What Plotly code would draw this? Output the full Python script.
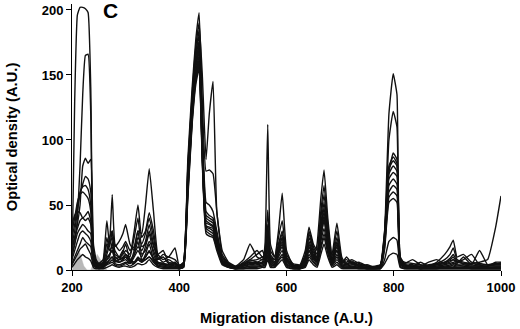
import plotly.graph_objects as go

# Migration-distance grid (A.U.), grouped by region
seg_a = [200, 205, 210, 215, 220, 225, 230, 235, 240, 245, 250, 258]
seg_b = [265, 270, 275, 280, 288, 295, 300, 308, 316, 323, 330, 337, 344, 352, 360, 370, 380, 392, 400]
seg_c = [408, 416, 424, 431, 437, 443, 450, 456, 463, 470, 480, 492, 505]
seg_d = [520, 532, 545, 555, 560, 565, 570, 578, 585, 592, 600, 612, 625]
seg_e = [635, 642, 650, 657, 664, 670, 677, 685, 694, 703, 712, 722, 735, 750, 765]
seg_f = [775, 783, 791, 799, 806, 812, 820, 835, 850, 865]
seg_g = [880, 895, 905, 911, 918, 930, 945, 960, 975, 990, 1000]
migration = seg_a + seg_b + seg_c + seg_d + seg_e + seg_f + seg_g

# Optical density profiles (A.U.), one list per lane
lane_1 = ([3, 130, 196, 202, 202, 201, 198, 140, 12, 6, 4, 3]
          + [8, 12, 15, 10, 8, 9, 12, 7, 6, 9, 8, 10, 14, 9, 6, 5, 4, 6, 3]
          + [6, 80, 135, 172, 190, 150, 85, 120, 145, 45, 15, 6, 3]
          + [5, 8, 6, 5, 10, 30, 10, 8, 15, 25, 8, 4, 3]
          + [10, 18, 10, 8, 25, 40, 20, 8, 15, 6, 5, 6, 4, 3, 2]
          + [3, 30, 120, 151, 135, 10, 5, 4, 3, 4]
          + [5, 6, 7, 8, 6, 5, 5, 6, 8, 33, 57])
lane_2 = ([10, 20, 40, 80, 135, 165, 166, 120, 10, 5, 4, 3]
          + [5, 8, 10, 7, 6, 8, 10, 6, 5, 8, 6, 8, 10, 7, 5, 4, 4, 5, 2]
          + [5, 85, 140, 178, 198, 130, 76, 77, 74, 45, 12, 5, 2]
          + [4, 6, 5, 6, 20, 112, 20, 10, 30, 59, 15, 4, 3]
          + [8, 15, 8, 20, 55, 77, 40, 12, 36, 10, 4, 5, 3, 2, 2]
          + [3, 25, 100, 122, 110, 8, 4, 3, 2, 3]
          + [3, 4, 5, 6, 4, 4, 3, 3, 3, 4, 4])
lane_3 = ([15, 25, 35, 50, 80, 86, 82, 85, 20, 8, 5, 4]
          + [12, 20, 58, 20, 15, 18, 22, 15, 18, 30, 28, 50, 78, 45, 12, 8, 10, 8, 4]
          + [5, 75, 130, 165, 185, 110, 52, 50, 45, 30, 10, 5, 3]
          + [8, 20, 10, 8, 15, 46, 15, 10, 25, 38, 12, 5, 4]
          + [15, 33, 20, 15, 45, 65, 35, 10, 30, 8, 6, 8, 5, 3, 3]
          + [4, 20, 75, 90, 85, 8, 6, 5, 4, 3]
          + [6, 12, 18, 23, 10, 12, 6, 5, 4, 5, 5])
lane_4 = ([20, 30, 45, 58, 66, 72, 70, 60, 15, 6, 5, 8]
          + [38, 20, 25, 15, 10, 12, 15, 12, 30, 50, 25, 30, 44, 30, 10, 6, 8, 5, 3]
          + [6, 78, 132, 168, 180, 105, 45, 42, 40, 28, 10, 4, 2]
          + [6, 10, 15, 10, 12, 35, 12, 8, 20, 30, 10, 4, 3]
          + [12, 30, 18, 12, 40, 58, 30, 8, 25, 7, 5, 6, 4, 3, 2]
          + [4, 30, 80, 87, 82, 10, 5, 8, 4, 3]
          + [4, 5, 8, 10, 6, 8, 12, 4, 3, 3, 3])
lane_5 = ([25, 35, 50, 60, 64, 65, 62, 50, 12, 5, 4, 6]
          + [15, 25, 30, 18, 22, 28, 35, 20, 15, 25, 20, 28, 40, 25, 8, 10, 5, 4, 2]
          + [5, 72, 128, 164, 176, 100, 42, 40, 38, 25, 8, 4, 2]
          + [5, 8, 12, 15, 10, 30, 10, 6, 18, 28, 9, 3, 3]
          + [10, 28, 16, 10, 35, 52, 28, 7, 22, 6, 8, 5, 3, 4, 2]
          + [3, 28, 78, 84, 80, 8, 4, 3, 6, 3]
          + [5, 8, 12, 17, 8, 6, 5, 4, 4, 4, 4])
lane_6 = ([30, 40, 52, 58, 60, 58, 55, 45, 10, 4, 3, 5]
          + [20, 18, 30, 12, 10, 15, 12, 10, 25, 40, 18, 20, 30, 18, 12, 15, 6, 5, 2]
          + [4, 70, 126, 160, 173, 98, 40, 38, 36, 24, 8, 3, 2]
          + [4, 7, 8, 10, 9, 25, 9, 5, 16, 25, 8, 3, 2]
          + [9, 25, 14, 9, 32, 48, 26, 6, 20, 5, 4, 7, 3, 2, 2]
          + [3, 26, 74, 80, 76, 7, 4, 3, 3, 6]
          + [8, 5, 6, 8, 5, 10, 4, 15, 4, 3, 3])
lane_7 = ([35, 42, 45, 44, 40, 42, 45, 38, 8, 4, 3, 6]
          + [25, 15, 18, 10, 8, 10, 12, 8, 12, 18, 15, 22, 35, 20, 8, 12, 10, 17, 3]
          + [4, 68, 124, 158, 170, 95, 38, 36, 34, 22, 7, 3, 2]
          + [4, 6, 6, 8, 8, 22, 8, 5, 14, 22, 7, 3, 2]
          + [8, 22, 12, 8, 30, 45, 24, 6, 18, 5, 10, 5, 6, 3, 2]
          + [3, 24, 70, 75, 72, 6, 4, 3, 3, 3]
          + [4, 6, 9, 12, 7, 5, 4, 3, 3, 6, 6])
lane_8 = ([18, 25, 32, 38, 40, 38, 40, 35, 8, 3, 3, 4]
          + [10, 12, 15, 8, 10, 8, 10, 6, 15, 30, 12, 15, 22, 15, 6, 5, 4, 3, 2]
          + [4, 66, 122, 156, 168, 92, 36, 35, 33, 21, 7, 3, 2]
          + [3, 5, 5, 6, 7, 20, 7, 4, 13, 20, 6, 3, 2]
          + [7, 20, 11, 7, 28, 42, 22, 5, 15, 4, 3, 4, 3, 2, 2]
          + [2, 22, 65, 70, 66, 6, 3, 2, 2, 2]
          + [3, 3, 4, 5, 4, 3, 3, 3, 2, 2, 2])
lane_9 = ([12, 20, 28, 32, 35, 33, 30, 28, 6, 3, 2, 3]
          + [8, 10, 22, 8, 6, 7, 8, 5, 10, 15, 10, 18, 28, 12, 5, 4, 3, 3, 2]
          + [3, 64, 120, 153, 165, 90, 34, 33, 32, 20, 6, 3, 2]
          + [3, 4, 4, 5, 6, 18, 6, 4, 12, 18, 5, 2, 2]
          + [6, 18, 10, 6, 25, 38, 20, 5, 12, 4, 3, 3, 2, 2, 2]
          + [2, 20, 60, 65, 62, 5, 3, 2, 2, 2]
          + [2, 3, 3, 4, 3, 3, 2, 2, 2, 2, 2])
lane_10 = ([8, 15, 22, 28, 30, 28, 26, 22, 5, 2, 2, 3]
           + [6, 8, 10, 6, 8, 14, 20, 8, 6, 10, 7, 10, 15, 8, 4, 3, 3, 2, 1]
           + [3, 62, 118, 150, 162, 88, 33, 32, 30, 19, 6, 3, 1]
           + [2, 3, 3, 4, 5, 15, 5, 3, 10, 15, 4, 2, 1]
           + [5, 15, 9, 5, 22, 32, 17, 4, 10, 3, 2, 3, 2, 1, 1]
           + [2, 18, 56, 60, 57, 5, 2, 2, 1, 2]
           + [2, 2, 3, 3, 2, 2, 2, 2, 2, 2, 2])
lane_11 = ([5, 10, 15, 20, 25, 22, 20, 18, 4, 2, 2, 2]
           + [5, 6, 8, 5, 4, 5, 6, 5, 12, 22, 8, 8, 10, 6, 3, 3, 2, 2, 1]
           + [2, 60, 116, 148, 160, 86, 32, 30, 28, 18, 5, 2, 1]
           + [2, 3, 3, 3, 4, 12, 4, 3, 8, 12, 4, 2, 1]
           + [4, 12, 7, 4, 18, 28, 15, 4, 8, 3, 2, 2, 2, 1, 1]
           + [1, 16, 52, 55, 52, 4, 2, 2, 1, 1]
           + [1, 2, 2, 2, 2, 2, 1, 1, 1, 1, 1])
lane_12 = ([4, 8, 12, 16, 18, 20, 16, 12, 3, 2, 1, 2]
           + [4, 5, 6, 4, 3, 4, 5, 3, 5, 8, 6, 12, 20, 8, 3, 2, 2, 2, 1]
           + [2, 58, 114, 146, 158, 84, 30, 28, 26, 17, 5, 2, 1]
           + [1, 2, 2, 3, 3, 10, 3, 2, 7, 10, 3, 1, 1]
           + [3, 10, 6, 3, 16, 25, 13, 3, 6, 2, 2, 2, 1, 1, 1]
           + [1, 8, 22, 25, 23, 3, 1, 1, 1, 1]
           + [1, 1, 1, 1, 1, 1, 1, 1, 1, 1, 1])
lane_13 = ([2, 5, 8, 10, 12, 10, 9, 7, 2, 1, 1, 1]
           + [2, 3, 4, 3, 2, 3, 3, 2, 3, 5, 4, 5, 8, 4, 2, 1, 1, 1, 1]
           + [2, 55, 112, 143, 155, 82, 28, 26, 25, 15, 4, 2, 1]
           + [1, 1, 1, 2, 2, 8, 2, 2, 5, 8, 2, 1, 1]
           + [2, 8, 4, 2, 12, 20, 10, 2, 4, 1, 1, 1, 1, 1, 1]
           + [1, 5, 11, 13, 12, 2, 1, 1, 1, 1]
           + [1, 1, 1, 1, 1, 1, 1, 1, 1, 1, 1])

lanes = [lane_1, lane_2, lane_3, lane_4, lane_5, lane_6, lane_7,
         lane_8, lane_9, lane_10, lane_11, lane_12, lane_13]

# Grey reference profile (filled)
ref_x = [200, 205, 213, 222, 228, 235, 247, 258, 265]
ref_y = [0, 5, 15, 3, 0, 0, 12, 4, 0]

for i, ln in enumerate(lanes):
    assert len(ln) == len(migration), (i, len(ln), len(migration))

x_ticks = [200, 400, 600, 800, 1000]
y_ticks = [0, 50, 100, 150, 200]

FONT = "Liberation Sans"

fig = go.Figure()
fig.add_trace(go.Scatter(x=ref_x, y=ref_y, mode="lines", fill="tozeroy",
                         fillcolor="#b8b8b8", line=dict(color="#b8b8b8", width=0.5),
                         showlegend=False, hoverinfo="skip"))
for ln in lanes:
    fig.add_trace(go.Scatter(x=migration, y=ln, mode="lines",
                             line=dict(color="#111111", width=1.4, shape="spline", smoothing=0.4),
                             showlegend=False))

fig.update_layout(
    width=520, height=329,
    margin=dict(l=72, r=19, t=4, b=59),
    paper_bgcolor="white", plot_bgcolor="white",
    font=dict(family=FONT, color="black"),
    xaxis=dict(range=[200, 1000], tickvals=x_ticks, ticktext=[f"<b>{v}</b>" for v in x_ticks],
               showline=True, linecolor="black", linewidth=1, ticks="outside",
               ticklen=5, tickcolor="black", showgrid=False, zeroline=False,
               tickfont=dict(size=13, family=FONT),
               title=dict(text="<b>Migration distance (A.U.)</b>", font=dict(size=14.7, family=FONT),
                          standoff=19)),
    yaxis=dict(range=[0, 204.6], tickvals=y_ticks, ticktext=[f"<b>{v}</b>" for v in y_ticks],
               showline=True, linecolor="black", linewidth=1, ticks="outside",
               ticklen=5, tickcolor="black", showgrid=False, zeroline=False,
               tickfont=dict(size=13, family=FONT),
               title=dict(text="<b>Optical density (A.U.)</b>", font=dict(size=14.7, family=FONT),
                          standoff=20)),
    annotations=[dict(text="<b>C</b>", xref="paper", yref="paper",
                      x=(110 - 72) / 429, y=(266 - (11 - 4)) / 266,
                      xanchor="center", yanchor="middle",
                      showarrow=False, font=dict(size=21, family=FONT))],
)

fig.write_html("out.html", config={"displayModeBar": False},
               post_script="document.body.style.margin='0px';")
